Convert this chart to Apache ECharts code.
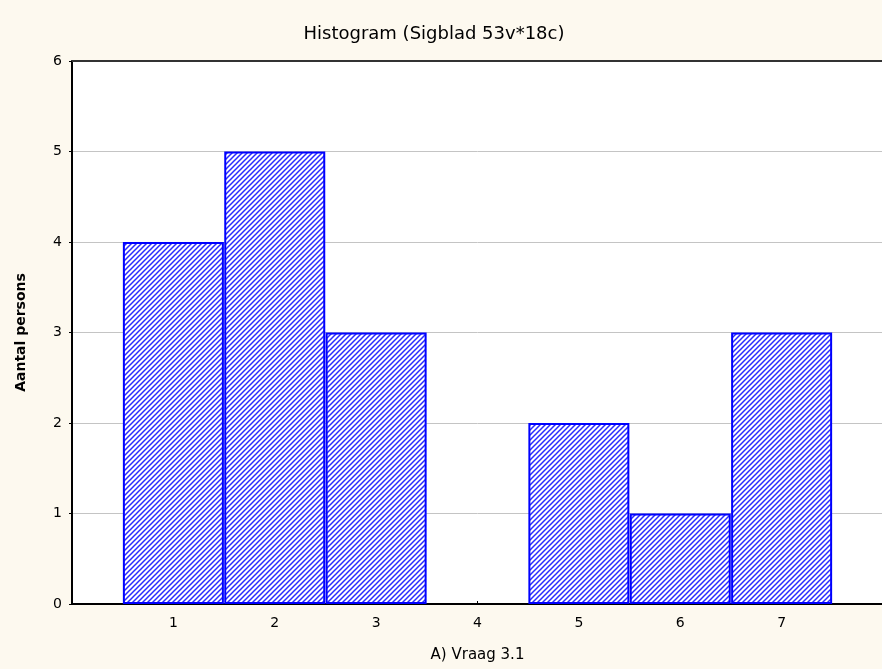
<!DOCTYPE html>
<html>
<head>
<meta charset="utf-8">
<script src="https://cdn.jsdelivr.net/npm/echarts@6/dist/echarts.min.js"></script>
<style>
  html, body { margin: 0; padding: 0; background: #fdf9ef; }
  #chart { width: 882px; height: 669px; }
</style>
</head>
<body>
<div id="chart"></div>
<script>
const categories = [1, 2, 3, 4, 5, 6, 7]
const counts = [4, 5, 3, 0, 2, 1, 3]
const yTicks = [0, 1, 2, 3, 4, 5, 6]

// hatch pattern, diagonal blue lines on white
function makeHatch() {
  const c = document.createElement('canvas')
  c.width = 5
  c.height = 5
  const ctx = c.getContext('2d')
  ctx.fillStyle = '#ffffff'
  ctx.fillRect(0, 0, 5, 5)
  ctx.strokeStyle = '#2a2aff'
  ctx.lineWidth = 1.5
  ctx.beginPath()
  ctx.moveTo(-1, 6); ctx.lineTo(6, -1)
  ctx.moveTo(-4, 4); ctx.lineTo(4, -4)
  ctx.moveTo(1, 9); ctx.lineTo(9, 1)
  ctx.stroke()
  return c
}

const font = 'DejaVu Sans'
const chart = echarts.init(document.getElementById('chart'))
chart.setOption({
  backgroundColor: '#fdf9ef',
  animation: false,
  title: {
    text: 'Histogram (Sigblad 53v*18c)',
    left: 429,
    top: 20,
    textAlign: 'center',
    textStyle: { fontFamily: font, fontSize: 18, fontWeight: 'normal', color: '#000' }
  },
  grid: {
    left: 72, right: -1, top: 61, bottom: 65,
    outerBoundsMode: 'none',
    backgroundColor: '#ffffff', show: true, borderColor: '#c0c0c0', borderWidth: 1
  },
  xAxis: [{
    type: 'value',
    min: 0,
    max: 8,
    interval: 1,
    name: 'A) Vraag 3.1',
    nameLocation: 'middle',
    nameGap: 44,
    nameTextStyle: { fontFamily: font, fontSize: 15, color: '#000' },
    axisLine: { show: true, lineStyle: { color: '#000', width: 2 } },
    axisTick: { show: true, inside: true, length: 3, lineStyle: { color: '#000' } },
    axisLabel: {
      fontFamily: font, fontSize: 14, color: '#000', margin: 12,
      formatter: v => (categories.includes(v) ? String(v) : '')
    },
    splitLine: { show: false }
  }, {
    type: 'value',
    position: 'top',
    min: 0,
    max: 8,
    axisLine: { show: true, lineStyle: { color: '#333', width: 2 } },
    axisTick: { show: false },
    axisLabel: { show: false },
    splitLine: { show: false }
  }],
  yAxis: {
    type: 'value',
    min: yTicks[0],
    max: yTicks[yTicks.length - 1],
    interval: 1,
    name: 'Aantal persons',
    nameLocation: 'middle',
    nameGap: 44,
    nameTextStyle: { fontFamily: font, fontSize: 14, fontWeight: 'bold', color: '#000' },
    axisLine: { show: true, lineStyle: { color: '#000', width: 2 } },
    axisTick: { show: true, inside: false, length: 3, lineStyle: { color: '#000' } },
    axisLabel: { fontFamily: font, fontSize: 14, color: '#000', margin: 10 },
    splitLine: { show: true, lineStyle: { color: '#c4c4c4', width: 1 } }
  },
  series: [{
    type: 'bar',
    xAxisIndex: 0,
    data: categories.map((c, i) => ({
      value: [c, counts[i]],
      itemStyle: counts[i] === 0 ? { borderWidth: 0 } : undefined
    })),
    barWidth: 101,
    itemStyle: {
      color: { image: makeHatch(), repeat: 'repeat' },
      borderColor: '#0000ff',
      borderWidth: 2
    }
  }]
})
</script>
</body>
</html>
